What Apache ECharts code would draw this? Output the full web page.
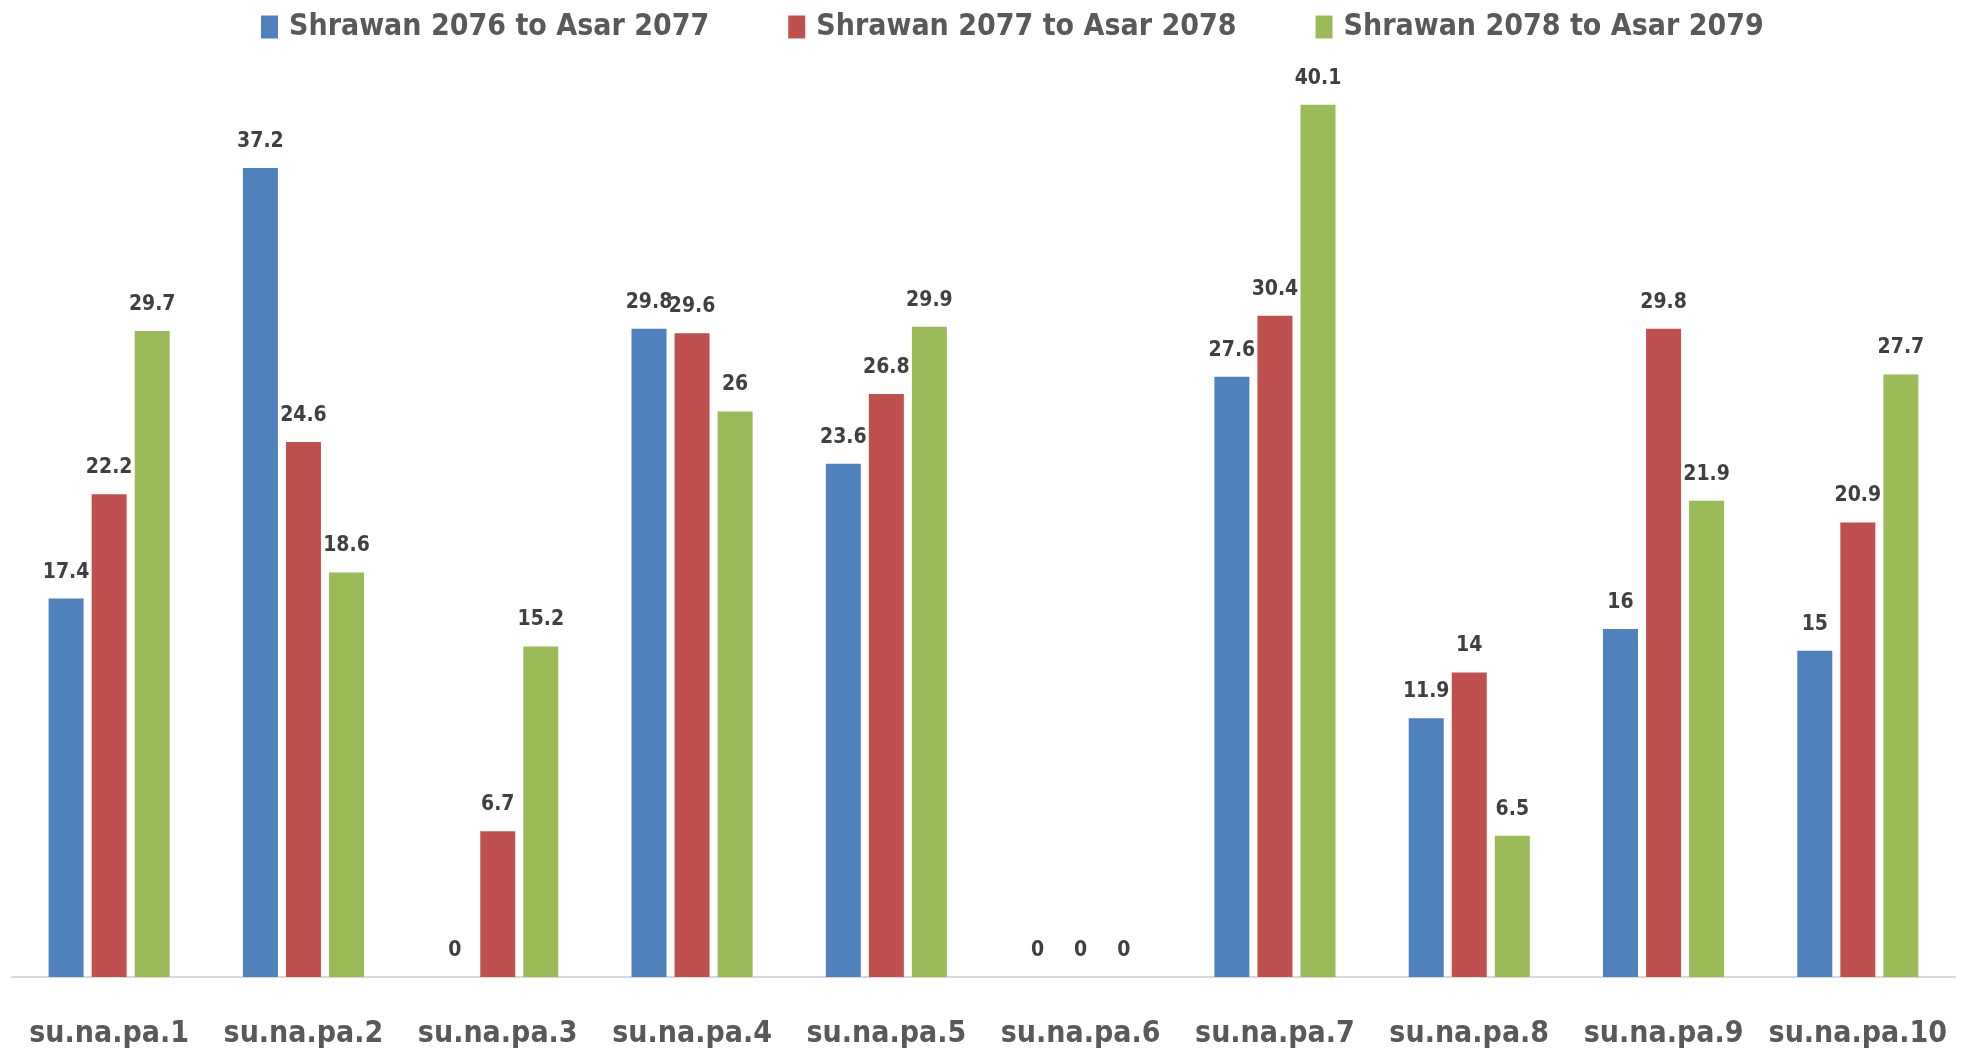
<!DOCTYPE html>
<html>
<head>
<meta charset="utf-8">
<script src="https://cdn.jsdelivr.net/npm/echarts@6/dist/echarts.min.js"></script>
<style>
html,body{margin:0;padding:0;background:#fff;}
#chart{width:1969px;height:1055px;}
</style>
</head>
<body>
<div id="chart"></div>
<script>
const categories = ['su.na.pa.1','su.na.pa.2','su.na.pa.3','su.na.pa.4','su.na.pa.5','su.na.pa.6','su.na.pa.7','su.na.pa.8','su.na.pa.9','su.na.pa.10'];
const seriesNames = ['Shrawan 2076 to Asar 2077','Shrawan 2077 to Asar 2078','Shrawan 2078 to Asar 2079'];
const values2076 = [17.4, 37.2, 0, 29.8, 23.6, 0, 27.6, 11.9, 16, 15];
const values2077 = [22.2, 24.6, 6.7, 29.6, 26.8, 0, 30.4, 14, 29.8, 20.9];
const values2078 = [29.7, 18.6, 15.2, 26, 29.9, 0, 40.1, 6.5, 21.9, 27.7];
const colors = ['#4F81BD','#C0504D','#9BBB59'];

const FONT = '"DejaVu Sans Condensed","Liberation Sans",sans-serif';
const chart = echarts.init(document.getElementById('chart'));
const allValues = [values2076, values2077, values2078];
chart.setOption({
  animation: false,
  color: colors,
  legend: {
    left: 256, top: 7, width: 1700,
    itemWidth: 17, itemHeight: 23, itemGap: 79,
    icon: 'rect',
    textStyle: {fontFamily: FONT, fontWeight: 'bold', fontSize: 30, color: '#595959', padding: [0,0,0,6]},
    data: seriesNames
  },
  grid: {left: 12, right: 14, top: 63.5, bottom: 78, containLabel: false},
  xAxis: {
    type: 'category', data: categories,
    axisLine: {lineStyle: {color: '#D9D9D9', width: 2}},
    axisTick: {show: false},
    axisLabel: {fontFamily: FONT, fontWeight: 'bold', fontSize: 30, color: '#595959', margin: 42, interval: 0}
  },
  yAxis: {type: 'value', min: 0, max: 42, show: false, splitLine: {show: false}},
  series: seriesNames.map((n, i) => ({
    name: n, type: 'bar', data: allValues[i],
    barWidth: 35, barGap: '23%',
    itemStyle: {color: colors[i]},
    label: {show: true, position: 'top', distance: 16, fontFamily: FONT, fontWeight: 'bold', fontSize: 21, color: '#404040'}
  }))
});
</script>
</body>
</html>
